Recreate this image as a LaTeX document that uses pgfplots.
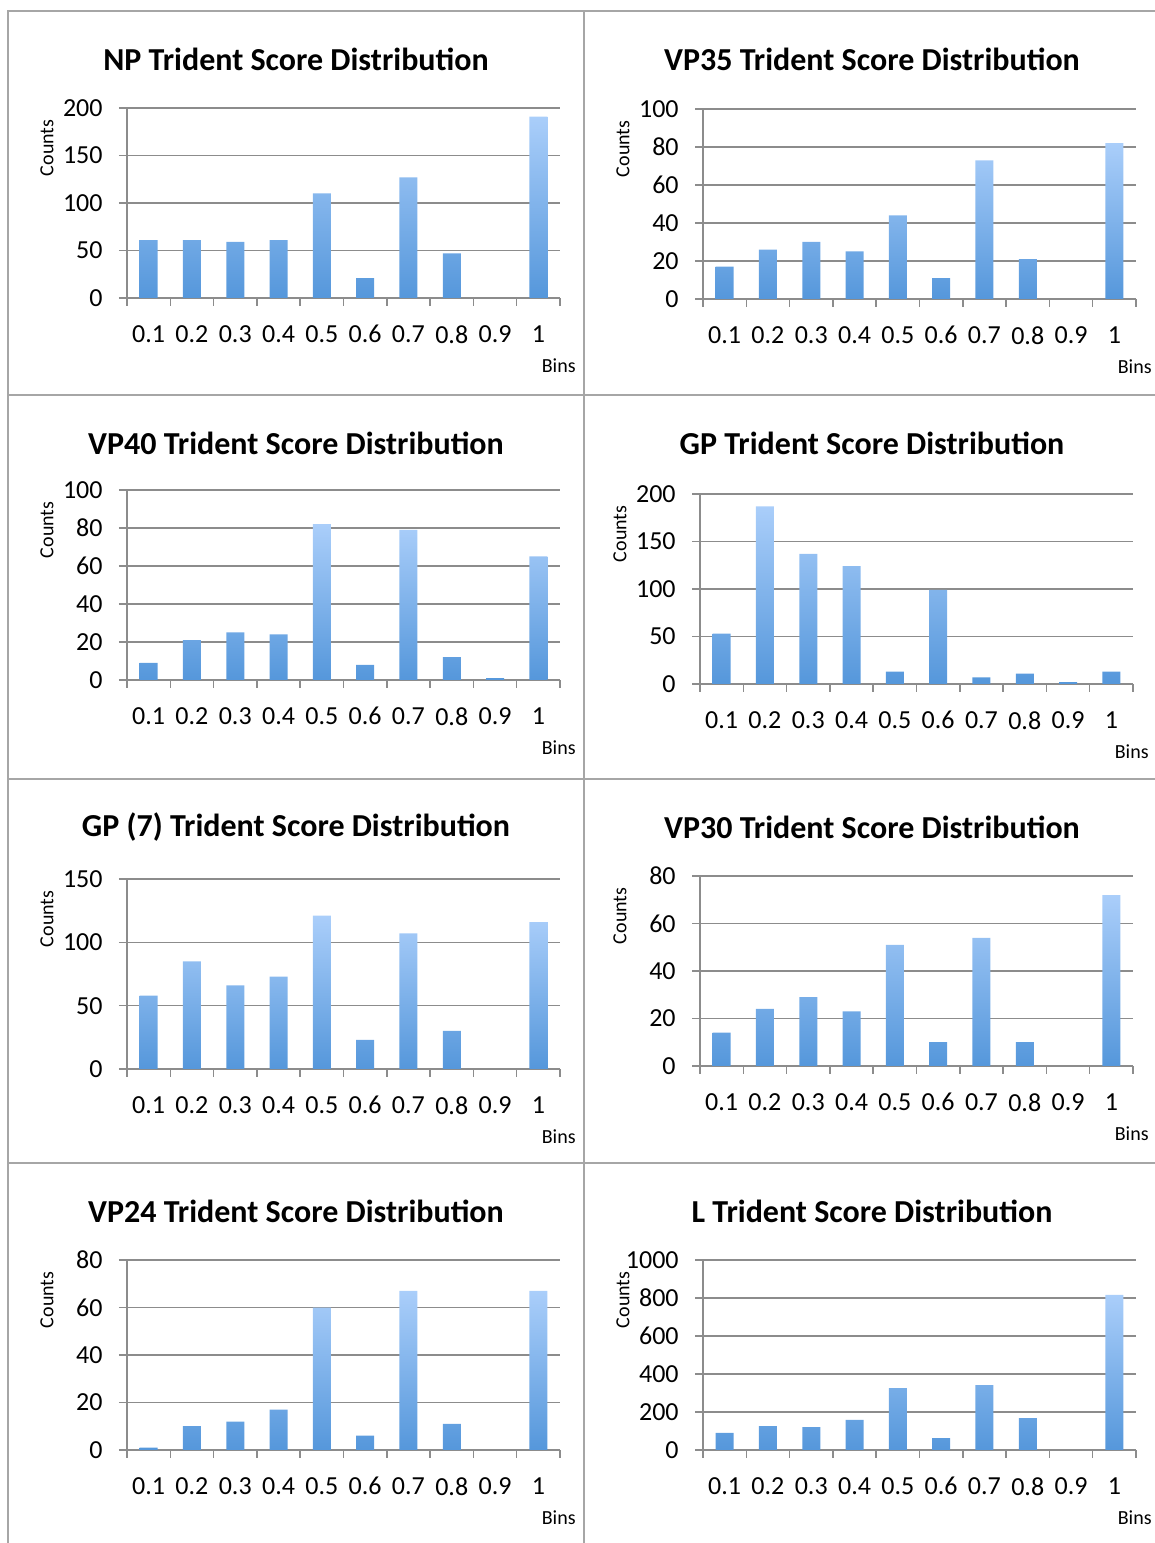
\documentclass[border=0pt]{standalone}
\usepackage{fontspec}
\setmainfont{Carlito}
\usepackage{pgfplots}
\pgfplotsset{compat=1.18}

\definecolor{gridgray}{HTML}{8C8C8C}
\definecolor{framegray}{HTML}{A6A6A6}
\definecolor{barTop}{HTML}{AACEFA}
\definecolor{barBot}{HTML}{5597DB}

\pgfplotsset{
  dist/.style={
    scale only axis, width=216.5pt, height=95pt,
    anchor=south west,
    xmin=0.5, xmax=10.5, ymin=0,
    axis x line*=bottom, axis y line*=left,
    axis line style={draw=gridgray, line width=0.75pt},
    xtick={1,...,10},
    xticklabels={0.1,0.2,0.3,0.4,0.5,0.6,0.7,0.8,0.9,1},
    minor xtick={0.5,1.5,...,10.5},
    major x tick style={draw=none},
    minor x tick style={draw=gridgray, line width=0.75pt},
    ytick style={draw=gridgray, line width=0.75pt},
    tick align=outside,
    major tick length=4pt, minor tick length=4pt,
    ymajorgrids, grid style={draw=gridgray, line width=0.75pt},
    scaled y ticks=false,
    /pgf/number format/assume math mode=true,
    /pgf/number format/1000 sep={},
    tick label style={font=\fontsize{13}{15}\selectfont},
    xticklabel style={inner sep=0pt, anchor=north, yshift=-9.5pt},
    yticklabel style={inner sep=0pt, anchor=east, xshift=-8pt},
    xlabel={Bins},
    xlabel style={at={(rel axis cs:1,0)}, anchor=east, inner sep=0pt,
                  xshift=8pt, yshift=-34pt, font=\fontsize{10}{12}\selectfont},
    ylabel={Counts},
    % the label is rotated, so its local y runs towards the left
    ylabel style={at={(rel axis cs:0,0.79)}, anchor=center, inner sep=0pt,
                  yshift=40pt, font=\fontsize{10}{12}\selectfont},
    clip=false,
  },
  bars/.style={ybar, bar width=9pt, draw=none, top color=barTop, bottom color=barBot},
}

\tikzset{ttl/.style={font=\bfseries\fontsize{16}{19}\selectfont}}

\begin{document}
\begin{tikzpicture}
\useasboundingbox (0pt,0pt) rectangle (577.5pt,771.5pt);

% panel frames
\begin{scope}[draw=framegray, line width=1pt]
  \draw (4pt,0pt) -- (4pt,766pt) -- (577.5pt,766pt);
  \draw (292pt,0pt) -- (292pt,766pt);
  \draw (4pt,574pt) -- (577.5pt,574pt);
  \draw (4pt,382pt) -- (577.5pt,382pt);
  \draw (4pt,190pt) -- (577.5pt,190pt);
\end{scope}

% titles
\node[ttl] at (148pt,742pt) {NP Trident Score Distribution};
\node[ttl] at (436pt,742pt) {VP35 Trident Score Distribution};
\node[ttl] at (148pt,550pt) {VP40 Trident Score Distribution};
\node[ttl] at (436pt,550pt) {GP Trident Score Distribution};
\node[ttl] at (148pt,358pt) {GP (7) Trident Score Distribution};
\node[ttl] at (436pt,358pt) {VP30 Trident Score Distribution};
\node[ttl] at (148pt,166pt) {VP24 Trident Score Distribution};
\node[ttl] at (436pt,166pt) {L Trident Score Distribution};

% NP
\begin{axis}[dist, at={(63.5pt,622.5pt)}, ymax=200, ytick distance=50]
  \addplot[bars] coordinates {(1,61) (2,61) (3,59) (4,61) (5,110) (6,21) (7,127) (8,47) (10,191)};
\end{axis}

% VP35
\begin{axis}[dist, at={(351.5pt,622pt)}, ymax=100, ytick distance=20]
  \addplot[bars] coordinates {(1,17) (2,26) (3,30) (4,25) (5,44) (6,11) (7,73) (8,21) (10,82)};
\end{axis}

% VP40
\begin{axis}[dist, at={(63.5pt,431.5pt)}, ymax=100, ytick distance=20]
  \addplot[bars] coordinates {(1,9) (2,21) (3,25) (4,24) (5,82) (6,8) (7,79) (8,12) (9,1) (10,65)};
\end{axis}

% GP
\begin{axis}[dist, at={(350pt,429.5pt)}, ymax=200, ytick distance=50]
  \addplot[bars] coordinates {(1,53) (2,187) (3,137) (4,124) (5,13) (6,99) (7,7) (8,11) (9,2) (10,13)};
\end{axis}

% GP (7)
\begin{axis}[dist, at={(63.5pt,237pt)}, ymax=150, ytick distance=50]
  \addplot[bars] coordinates {(1,58) (2,85) (3,66) (4,73) (5,121) (6,23) (7,107) (8,30) (10,116)};
\end{axis}

% VP30
\begin{axis}[dist, at={(350pt,238.5pt)}, ymax=80, ytick distance=20]
  \addplot[bars] coordinates {(1,14) (2,24) (3,29) (4,23) (5,51) (6,10) (7,54) (8,10) (10,72)};
\end{axis}

% VP24
\begin{axis}[dist, at={(63.5pt,46.5pt)}, ymax=80, ytick distance=20]
  \addplot[bars] coordinates {(1,1) (2,10) (3,12) (4,17) (5,60) (6,6) (7,67) (8,11) (10,67)};
\end{axis}

% L
\begin{axis}[dist, at={(351.5pt,46.5pt)}, ymax=1000, ytick distance=200]
  \addplot[bars] coordinates {(1,90) (2,126) (3,121) (4,158) (5,326) (6,63) (7,342) (8,168) (10,816)};
\end{axis}

\end{tikzpicture}
\end{document}
